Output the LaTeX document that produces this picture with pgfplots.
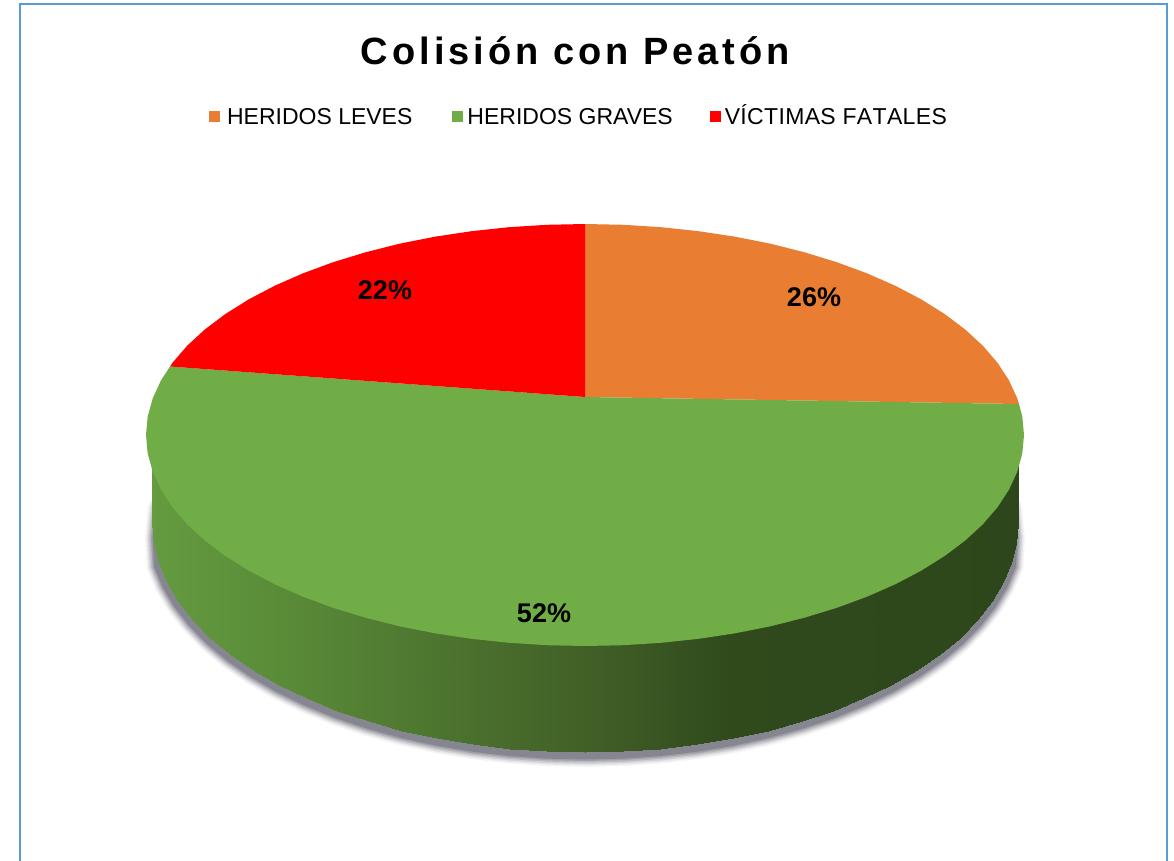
\documentclass[border=0pt]{standalone}
\usepackage{pgfplots}
\pgfplotsset{compat=1.18}
\usepackage{pgfplotstable}
\usepackage{fontspec}
\setmainfont{Liberation Sans}
\newfontfamily\titlefont[LetterSpace=10.5]{Liberation Sans Bold}
\definecolor{cOrange}{RGB}{233,125,50}
\definecolor{cGreen}{RGB}{112,173,71}
\definecolor{cRed}{RGB}{255,0,0}
\definecolor{cFrame}{RGB}{91,155,213}
\definecolor{cShadow}{RGB}{60,60,80}
% lower rim of the disc, left to right
\pgfplotstableread{
x y
160 505
157 535
158.6 562.8
166.8 582.3
178.1 601.3
192.6 619.8
210 637.5
230.3 654.4
253.3 670.2
278.8 684.9
306.7 698.4
336.6 710.6
368.5 721.3
402 730.5
436.9 738.2
472.9 744.2
509.8 748.5
547.2 751.1
585 752
622.8 751.1
660.2 748.5
697.1 744.2
733.1 738.2
768 730.5
801.5 721.3
833.4 710.6
863.3 698.4
891.2 684.9
916.7 670.2
939.7 654.4
960 637.5
977.4 619.8
991.9 601.3
1003.2 582.3
1011.4 562.8
1013 535
1010 505
}\rimtable
% side wall: upper row, then lower row
\pgfplotstableread{
x y
152 440
153.6 440
158.6 440
166.8 440
178.1 440
192.6 440
210 440
230.3 440
253.3 440
278.8 440
306.7 440
336.6 440
368.5 440
402 440
436.9 440
472.9 440
509.8 440
547.2 440
585 440
622.8 440
660.2 440
697.1 440
733.1 440
768 440
801.5 440
833.4 440
863.3 440
891.2 440
916.7 440
939.7 440
960 440
977.4 440
991.9 440
1003.2 440
1011.4 440
1016.4 440
1018 440
152 523
153.6 543
158.6 562.8
166.8 582.3
178.1 601.3
192.6 619.8
210 637.5
230.3 654.4
253.3 670.2
278.8 684.9
306.7 698.4
336.6 710.6
368.5 721.3
402 730.5
436.9 738.2
472.9 744.2
509.8 748.5
547.2 751.1
585 752
622.8 751.1
660.2 748.5
697.1 744.2
733.1 738.2
768 730.5
801.5 721.3
833.4 710.6
863.3 698.4
891.2 684.9
916.7 670.2
939.7 654.4
960 637.5
977.4 619.8
991.9 601.3
1003.2 582.3
1011.4 562.8
1016.4 543
1018 523
}\sidetable
\begin{document}
\begin{tikzpicture}
\begin{axis}[
  scale only axis, width=1174pt, height=861pt,
  xmin=0, xmax=1174, ymin=0, ymax=861, y dir=reverse,
  hide axis,
  title={\titlefont\fontsize{38}{42}\selectfont Colisión con Peatón},
  title style={at={(0.4902,0.9338)},anchor=center,inner sep=0pt},
  colormap={sidewall}{rgb255(0pt)=(100,155,64) rgb255(150pt)=(88,137,55) rgb255(250pt)=(80,122,49) rgb255(350pt)=(72,108,44) rgb255(450pt)=(64,94,38) rgb255(580pt)=(48,74,28) rgb255(870pt)=(45,70,27)},
  point meta min=150, point meta max=1020,
  legend columns=-1,
  legend image code/.code={\fill[#1] (0pt,-5.5pt) rectangle (11pt,5.5pt);},
  legend style={at={(axis cs:579,117)},anchor=center,draw=none,fill=none,
    font=\fontsize{23}{26}\selectfont,inner sep=0pt,
    nodes={text height=17pt,text depth=1pt},
    /tikz/every even column/.append style={column sep=35pt}},
]
\addplot[fill=white,draw=none,forget plot] coordinates {(0,0)(1174,0)(1174,861)(0,861)} --cycle;
\addplot[draw=cShadow,line width=24pt,opacity=0.05,forget plot,line cap=round] table[x=x,y expr=\thisrow{y}+3] {\rimtable};
\addplot[draw=cShadow,line width=21pt,opacity=0.08,forget plot,line cap=round] table[x=x,y expr=\thisrow{y}+3] {\rimtable};
\addplot[draw=cShadow,line width=18pt,opacity=0.12,forget plot,line cap=round] table[x=x,y expr=\thisrow{y}+3] {\rimtable};
\addplot[draw=cShadow,line width=15pt,opacity=0.16,forget plot,line cap=round] table[x=x,y expr=\thisrow{y}+3] {\rimtable};
\addplot[draw=cShadow,line width=12pt,opacity=0.2,forget plot,line cap=round] table[x=x,y expr=\thisrow{y}+3] {\rimtable};
\addplot[draw=cShadow,line width=9pt,opacity=0.25,forget plot,line cap=round] table[x=x,y expr=\thisrow{y}+3] {\rimtable};
\addplot[surf,shader=interp,mesh/rows=2,mesh/cols=37,point meta=x,forget plot] table[x=x,y=y] {\sidetable};
\addplot[fill=cOrange,draw=none] coordinates {
(585,397)(585,224)(623.3,224.8)(661.2,227.2)(698.6,231.2)(735.1,236.7)(770.5,243.7)(804.5,252.3)(836.8,262.2)(867.2,273.4)(895.4,285.8)(921.3,299.4)(944.6,314)(965.2,329.5)(982.9,345.8)(997.5,362.8)(1009,380.4)(1017.3,398.4)(1019,404)} --cycle;
\addlegendentry{\hspace*{5pt}HERIDOS LEVES\hspace*{3pt}}
\addplot[fill=cGreen,draw=none] coordinates {
(585,397)(1019,404)(1022.3,416.6)(1024,435)(1022.3,453.4)(1017.3,471.6)(1009,489.6)(997.5,507.2)(982.9,524.2)(965.2,540.5)(944.6,556)(921.3,570.6)(895.4,584.2)(867.2,596.6)(836.8,607.8)(804.5,617.7)(770.5,626.3)(735.1,633.3)(698.6,638.8)(661.2,642.8)(623.3,645.2)(585,646)(546.7,645.2)(508.8,642.8)(471.4,638.8)(434.9,633.3)(399.5,626.3)(365.5,617.7)(333.2,607.8)(302.8,596.6)(274.6,584.2)(248.7,570.6)(225.4,556)(204.8,540.5)(187.1,524.2)(172.5,507.2)(161,489.6)(152.7,471.6)(147.7,453.4)(146,435)(147.7,416.6)(152.7,398.4)(161,380.4)(170,366.5)} --cycle;
\addlegendentry{\hspace*{2pt}HERIDOS GRAVES}
\addplot[fill=cRed,draw=none] coordinates {
(585,397)(170,366.5)(172.5,362.8)(187.1,345.8)(204.8,329.5)(225.4,314)(248.7,299.4)(274.6,285.8)(302.8,273.4)(333.2,262.2)(365.5,252.3)(399.5,243.7)(434.9,236.7)(471.4,231.2)(508.8,227.2)(546.7,224.8)(585,224)} --cycle;
\addlegendentry{\hspace*{2pt}\addfontfeatures{Kerning=Off,LetterSpace=1.5}VÍCTIMAS FATALES}
\addplot[draw=cFrame,line width=2.5pt,forget plot] coordinates {(20,870)(20,4)(1167,4)(1167,870)};
\addplot[only marks,mark=none,forget plot,point meta=explicit,
  nodes near coords={\pgfmathprintnumber[assume math mode=true]{\pgfplotspointmeta}\%},
  nodes near coords align=center,
  every node near coord/.append style={font=\bfseries\fontsize{27}{30}\selectfont,text=black,inner sep=0pt,anchor=center}]
  coordinates {(814,297)[26] (544,613)[52] (385,290)[22]};
\end{axis}
\end{tikzpicture}
\end{document}
